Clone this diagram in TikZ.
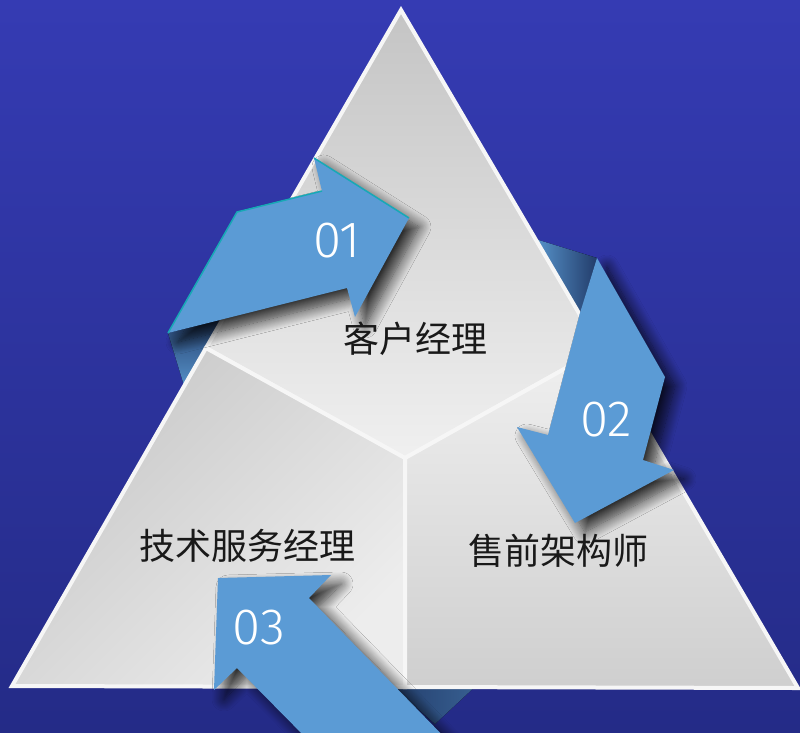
\documentclass[tikz,border=0pt]{standalone}
\usepackage{tkz-euclide}
\usepackage{fontspec}
\newfontfamily\cjk{Noto Sans CJK SC}
\newfontfamily\digits{Fira Sans Light}
\usetikzlibrary{shadows.blur}
\definecolor{bgtop}{HTML}{353BB3}
\definecolor{bgbot}{HTML}{242B87}
\definecolor{arrowblue}{HTML}{5B9BD5}
\definecolor{arrowedge}{HTML}{17A9B6}
\definecolor{folddark}{HTML}{223C6A}
\definecolor{foldlight}{HTML}{5A98D0}
\definecolor{rim}{HTML}{F6F6F6}
\tikzset{
  piece/.style={draw=rim, line width=4pt, line join=miter},
  flow/.style={fill=arrowblue, blur shadow={shadow xshift=10pt, shadow yshift=-9pt,
      shadow blur radius=12pt, shadow blur steps=14, shadow opacity=80}},
  role/.style={font=\cjk\fontsize{36}{40}\selectfont, text=black!90},
  num/.style={font=\digits\fontsize{51}{54}\selectfont, text=white}
}

\begin{document}
\begin{tikzpicture}[x=1pt,y=-1pt]
    \useasboundingbox (0,0) rectangle (800,732);
    \clip (0,0) rectangle (800,732);
    % Background
    \fill[top color=bgtop, bottom color=bgbot] (0,0) rectangle (800,732);
    % Points
    \tkzDefPoint(401,10){A}
    \tkzDefPoint(12,686){B}
    \tkzDefPoint(798,688){C}
    \tkzDefPoint(206,348){AB}
    \tkzDefPoint(600,349){AC}
    \tkzDefPoint(405,687){BC}
    \tkzDefPoint(405,458){G}
    % Folds
    \fill[top color=folddark, bottom color=foldlight] (168,333) -- (240,315) -- (186,392) -- cycle;
    \fill[left color=foldlight, right color=folddark] (532,238) -- (597,258) -- (582,318) -- cycle;
    \fill[left color=folddark, middle color=foldlight, right color=folddark!60!foldlight]
      (385,680) -- (480,682) -- (435,724) -- cycle;
    % Pieces
    \shade[piece, top color=black!23, bottom color=black!6] (A) -- (AB) -- (G) -- (AC) -- cycle;
    \shade[piece, top color=black!22, bottom color=black!7, shading angle=45] (AB) -- (B) -- (BC) -- (G) -- cycle;
    \shade[piece, top color=black!6, bottom color=black!19] (G) -- (BC) -- (C) -- (AC) -- cycle;
    % Arrows
    \tkzDefPoint(168,333){a1} \tkzDefPoint(237,212){a2} \tkzDefPoint(322,191){a3}
    \tkzDefPoint(314,158){a4} \tkzDefPoint(409,218){a5} \tkzDefPoint(355,317){a6}
    \tkzDefPoint(347,288){a7}
    \fill[flow] (a1) -- (a2) -- (a3) -- (a4) -- (a5) -- (a6) -- (a7) -- cycle;
    \draw[arrowedge, line width=1.5pt] (a1) -- (a2) -- (a3) (a4) -- (a5);
    \tkzDefPoint(580,313){b1} \tkzDefPoint(597,258){b2} \tkzDefPoint(665,377){b3}
    \tkzDefPoint(643,460){b4} \tkzDefPoint(674,470){b5} \tkzDefPoint(575,523){b6}
    \tkzDefPoint(517,427){b7} \tkzDefPoint(548,435){b8}
    \fill[flow] (b1) -- (b2) -- (b3) -- (b4) -- (b5) -- (b6) -- (b7) -- (b8) -- cycle;
    \tkzDefPoint(218,578){c1} \tkzDefPoint(331,575){c2} \tkzDefPoint(309,598){c3}
    \tkzDefPoint(452,745){c4} \tkzDefPoint(313,745){c5} \tkzDefPoint(237,668){c6}
    \tkzDefPoint(214,690){c7}
    \fill[flow] (c1) -- (c2) -- (c3) -- (c4) -- (c5) -- (c6) -- (c7) -- cycle;
    % Labels
    \node[role] (manager) at (415,339) {客户经理};
    \node[role] (presales) at (558,551) {售前架构师};
    \node[role] (support) at (247,546) {技术服务经理};
    \node[num] (n1) at (337,241) {01};
    \node[num] (n2) at (606,420) {02};
    \node[num] (n3) at (259,628) {03};
  \end{tikzpicture}
\end{document}
